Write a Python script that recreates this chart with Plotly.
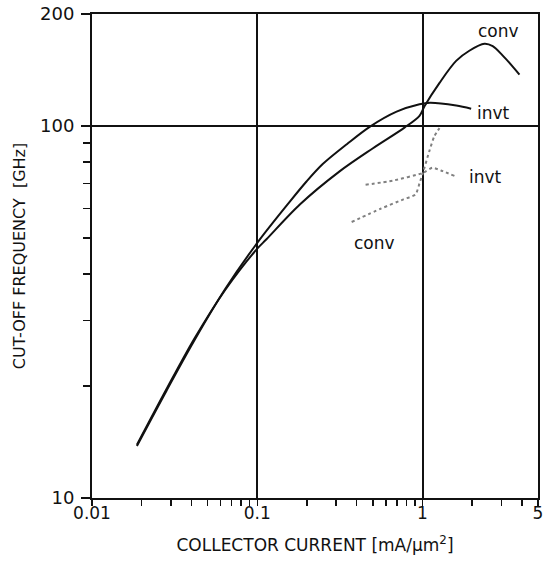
import math
import plotly.graph_objects as go

# Solid curves
conv_solid_x = [0.0187, 0.0282, 0.0416, 0.0641, 0.1, 0.1137, 0.181, 0.315, 0.499, 0.778, 0.959, 1.028, 1.268, 1.598, 1.92, 2.37, 2.66, 3.05, 3.6, 3.86]
conv_solid_y = [13.9, 19.6, 26.8, 36.3, 46.8, 49.6, 61.5, 75.5, 87.0, 99.0, 106.5, 113.0, 130.6, 149.6, 159.3, 166.3, 163.9, 154.8, 142.7, 137.5]

invt_solid_x = [0.0187, 0.0282, 0.0416, 0.0641, 0.1, 0.157, 0.198, 0.249, 0.35, 0.479, 0.697, 0.959, 1.11, 1.6, 1.97]
invt_solid_y = [13.8, 19.4, 26.5, 36.5, 48.5, 62.5, 70.8, 79.0, 89.5, 99.5, 109.3, 114.4, 115.5, 113.5, 111.3]

# Dotted curves
conv_dot_x = [0.3727, 0.557, 0.767, 0.908, 0.959, 1.004, 1.10, 1.18, 1.267]
conv_dot_y = [55.2, 59.9, 63.5, 65.5, 70.1, 74.6, 85.6, 93.9, 98.7]

invt_dot_x = [0.4525, 0.661, 1.004, 1.148, 1.327, 1.56]
invt_dot_y = [69.5, 71.3, 74.8, 77.2, 75.6, 73.4]

# Curve labels
label_text = ["conv", "invt", "invt", "conv"]
label_x = [2.90, 2.70, 2.40, 0.511]
label_y = [179.6, 108.7, 72.8, 48.4]

x_tickvals = [0.01, 0.1, 1, 5]
x_ticktext = ["0.01", "0.1", "1", "5"]
x_minor = [0.02, 0.03, 0.04, 0.05, 0.06, 0.07, 0.08, 0.09,
           0.2, 0.3, 0.4, 0.5, 0.6, 0.7, 0.8, 0.9, 2, 3, 4]
y_tickvals = [10, 100, 200]
y_ticktext = ["10", "100", "200"]
y_minor = [20, 30, 40, 50, 60, 70, 80, 90]

FONT = "DejaVu Sans"
INK = "#111111"

fig = go.Figure()
for xs, ys in [(conv_solid_x, conv_solid_y), (invt_solid_x, invt_solid_y)]:
    fig.add_trace(go.Scatter(x=xs, y=ys, mode="lines",
                             line=dict(color=INK, width=2, shape="spline", smoothing=0.9),
                             showlegend=False, hoverinfo="skip"))
for xs, ys in [(conv_dot_x, conv_dot_y), (invt_dot_x, invt_dot_y)]:
    fig.add_trace(go.Scatter(x=xs, y=ys, mode="lines",
                             line=dict(color="#808080", width=2, dash="dot", shape="spline", smoothing=0.6),
                             showlegend=False, hoverinfo="skip"))

for t, lx, ly in zip(label_text, label_x, label_y):
    fig.add_annotation(x=math.log10(lx), y=math.log10(ly), xref="x", yref="y",
                       text=t, showarrow=False,
                       font=dict(family=FONT, size=17, color=INK))

fig.update_layout(
    width=544, height=564,
    margin=dict(l=92, r=6, t=14, b=66, autoexpand=False),
    paper_bgcolor="white", plot_bgcolor="white",
    font=dict(family=FONT, color=INK),
)
fig.update_xaxes(
    type="log", range=[-2.0, 0.69897], automargin=False,
    tickmode="array", tickvals=x_tickvals, ticktext=x_ticktext,
    ticks="outside", ticklen=6, tickwidth=1.5, tickcolor=INK,
    ticklabelstandoff=-7, ticklabeloverflow="allow",
    tickfont=dict(family=FONT, size=17, color=INK),
    showgrid=True, gridcolor=INK, gridwidth=2,
    showline=True, linecolor=INK, linewidth=2, mirror=True,
    zeroline=False,
    minor=dict(tickmode="array", tickvals=x_minor, ticks="outside", ticklen=6,
               tickwidth=1.5, tickcolor=INK, showgrid=False),
    title=dict(text="COLLECTOR CURRENT [mA/\u03bcm<sup>2</sup>]",
               font=dict(family=FONT, size=17, color=INK), standoff=17),
)
fig.update_yaxes(
    type="log", range=[1, 2.30103], automargin=False,
    tickmode="array", tickvals=y_tickvals, ticktext=y_ticktext,
    ticks="outside", ticklen=9, tickwidth=1.5, tickcolor=INK,
    ticklabelstandoff=3, ticklabeloverflow="allow",
    tickfont=dict(family=FONT, size=18, color=INK),
    showgrid=True, gridcolor=INK, gridwidth=2,
    showline=True, linecolor=INK, linewidth=2, mirror=True,
    zeroline=False,
    minor=dict(tickmode="array", tickvals=y_minor, ticks="outside", ticklen=7,
               tickwidth=1.5, tickcolor=INK, showgrid=False),
    title=dict(text="CUT-OFF FREQUENCY  [GHz]",
               font=dict(family=FONT, size=16, color=INK), standoff=10),
)

page_fix = ("document.documentElement.style.margin='0';"
            "document.documentElement.style.overflow='hidden';"
            "document.body.style.margin='0';"
            "document.body.style.overflow='hidden';")
fig.write_html("out.html", post_script=page_fix,
               config={"displayModeBar": False, "staticPlot": True})
